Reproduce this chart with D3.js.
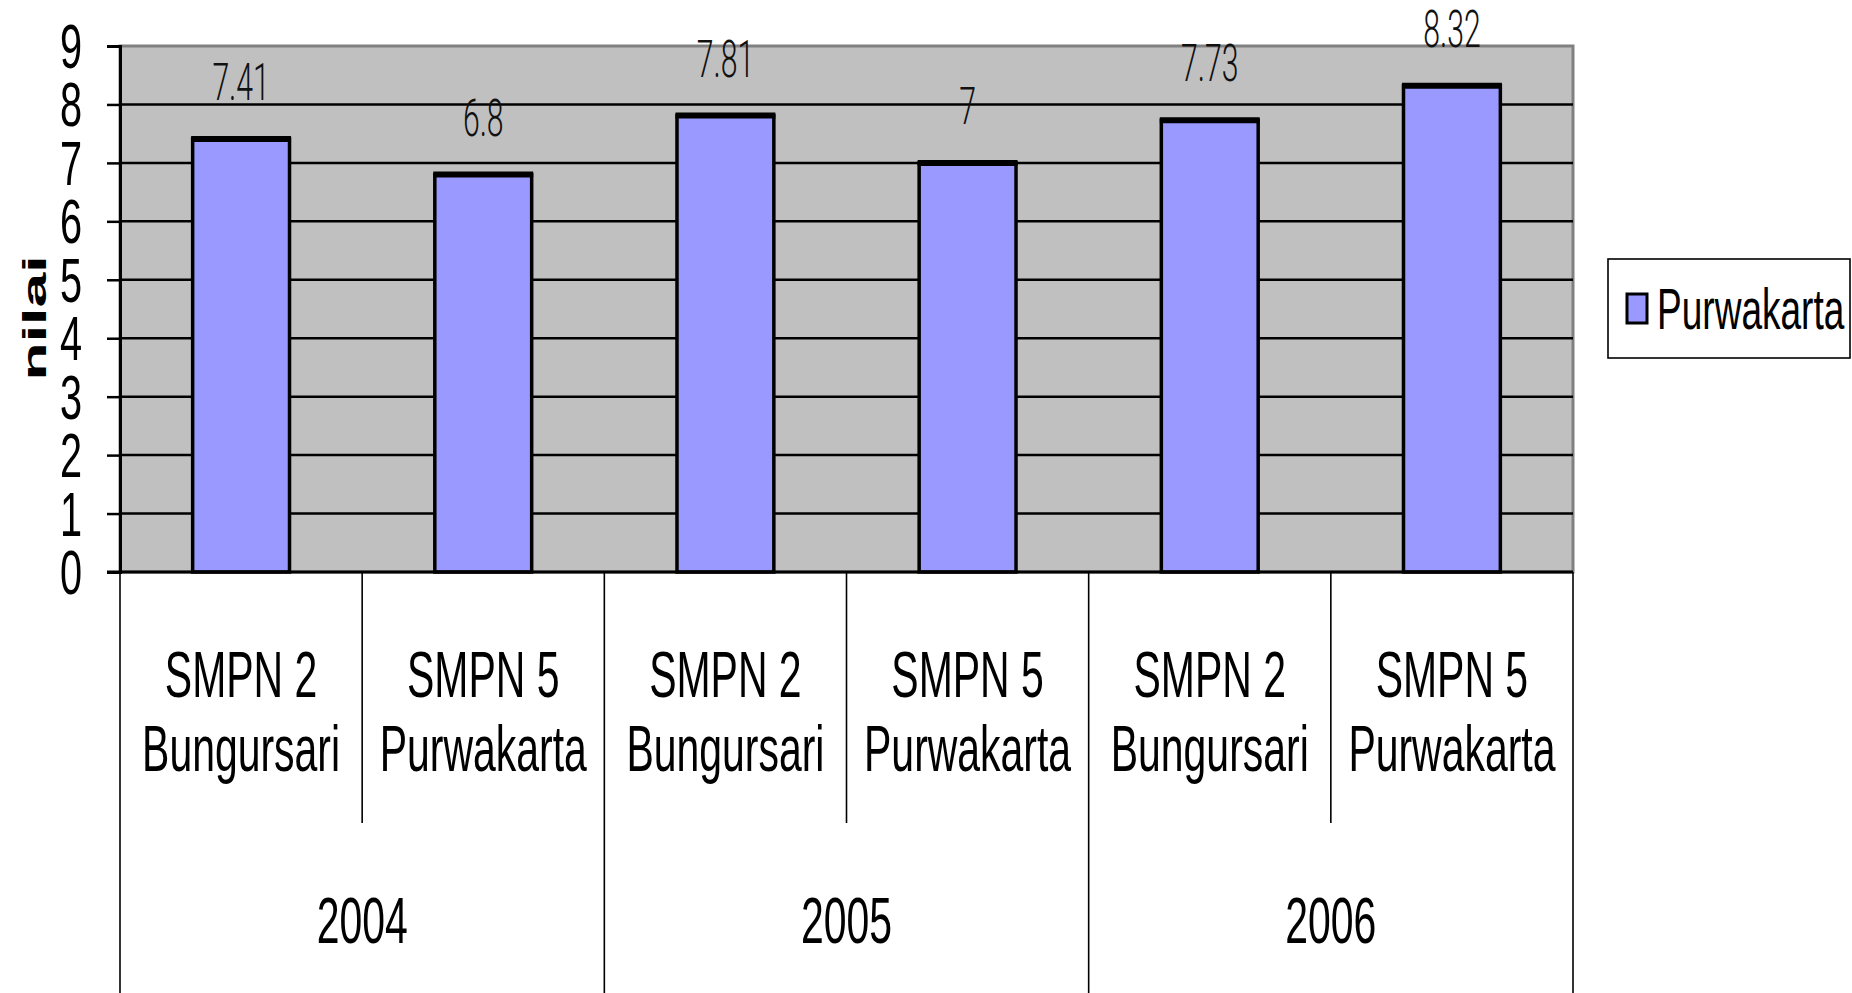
<!DOCTYPE html>
<html>
<head>
<meta charset="utf-8">
<script src="https://cdn.jsdelivr.net/npm/d3@7"></script>
<style>
    body { margin: 0; background: #fff; }
    svg { display: block; font-family: "Liberation Sans", Arial, sans-serif; }
</style>
</head>
<body>
<div class="div-bar-plot"></div>
<script>
// DATA

var schools = ["SMPN 2|Bungursari", "SMPN 5|Purwakarta", "SMPN 2|Bungursari", "SMPN 5|Purwakarta", "SMPN 2|Bungursari", "SMPN 5|Purwakarta"];
var years = ["2004", "2005", "2006"];
var nilai = [7.41, 6.8, 7.81, 7, 7.73, 8.32];
var valueLabels = ["7.41", "6.8", "7.81", "7", "7.73", "8.32"];
var yTicks = [0, 1, 2, 3, 4, 5, 6, 7, 8, 9];
var seriesName = "Purwakarta";

// VISUALIZATION

var width = 1852;
var height = 993;
var plotLeft = 120, plotRight = 1573, plotTop = 46, plotBottom = 572;
var squeeze = 0.63; // the original chart text is stretched tall

var svg = d3.select(".div-bar-plot").append("svg")
    .attr("width", width)
    .attr("height", height);

var x_scale = d3.scaleBand()
    .domain(d3.range(schools.length))
    .range([plotLeft, plotRight])
    .padding(0);

var year_scale = d3.scaleBand()
    .domain(years)
    .range([plotLeft, plotRight])
    .padding(0);

var y_scale = d3.scaleLinear()
    .domain([0, 9])
    .range([plotBottom, plotTop]);

// plot area
svg.append("rect")
    .attr("x", plotLeft)
    .attr("y", y_scale(9))
    .attr("width", plotRight - plotLeft)
    .attr("height", plotBottom - y_scale(9))
    .attr("fill", "#c0c0c0")
    .attr("stroke", "#808080")
    .attr("stroke-width", 3);

// gridlines
svg.append("g")
    .selectAll("line")
    .data(yTicks.filter(d => d > 0 && d < 9))
    .join("line")
    .attr("x1", plotLeft)
    .attr("x2", plotRight)
    .attr("y1", d => y_scale(d))
    .attr("y2", d => y_scale(d))
    .attr("stroke", "#000")
    .attr("stroke-width", 2.5);

// bars
var barWidth = x_scale.bandwidth() * 0.4;
var bars = svg.append("g").selectAll("g")
    .data(nilai)
    .join("g");

bars.append("rect")
    .attr("x", (d, i) => x_scale(i) + (x_scale.bandwidth() - barWidth) / 2)
    .attr("y", d => y_scale(d))
    .attr("width", barWidth)
    .attr("height", d => y_scale(0) - y_scale(d))
    .attr("fill", "#9999ff")
    .attr("stroke", "#000")
    .attr("stroke-width", 3.5);

bars.append("line")
    .attr("x1", (d, i) => x_scale(i) + (x_scale.bandwidth() - barWidth) / 2 - 1.5)
    .attr("x2", (d, i) => x_scale(i) + (x_scale.bandwidth() + barWidth) / 2 + 1.5)
    .attr("y1", d => y_scale(d))
    .attr("y2", d => y_scale(d))
    .attr("stroke", "#000")
    .attr("stroke-width", 6);

// value labels
svg.append("g").selectAll("text")
    .data(nilai)
    .join("text")
    .attr("transform", (d, i) => "translate(" + (x_scale(i) + x_scale.bandwidth() / 2) + "," + (y_scale(d) - 39) + ") scale(0.58,1)")
    .attr("text-anchor", "middle")
    .style("font-family", "Roboto, 'Liberation Sans', sans-serif")
    .style("font-weight", 300)
    .style("font-size", "52px")
    .attr("fill", "#111")
    .text((d, i) => valueLabels[i]);

// y axis
var y_axis = d3.axisLeft(y_scale)
    .tickValues(yTicks)
    .tickSize(13)
    .tickFormat("");

svg.append("g")
    .attr("class", "y axis")
    .attr("transform", "translate(" + plotLeft + ",0)")
    .call(y_axis)
    .call(g => g.select(".domain").attr("stroke-width", 3))
    .call(g => g.selectAll(".tick line").attr("stroke-width", 2.5));

svg.append("g").selectAll("text")
    .data(yTicks)
    .join("text")
    .attr("transform", d => "translate(82," + (y_scale(d) + 22) + ") scale(" + squeeze + ",1)")
    .attr("text-anchor", "end")
    .style("font-size", "63px")
    .text(d => d);

svg.append("line")
    .attr("x1", plotLeft - 13)
    .attr("x2", plotRight)
    .attr("y1", plotBottom)
    .attr("y2", plotBottom)
    .attr("stroke", "#000")
    .attr("stroke-width", 3);

svg.append("text")
    .attr("transform", "translate(46," + ((plotTop + plotBottom) / 2 + 9) + ") rotate(-90) scale(1.84,1)")
    .attr("text-anchor", "middle")
    .style("font-size", "34px")
    .style("font-weight", "bold")
    .text("nilai");

// category table below the plot
var table = svg.append("g").attr("stroke", "#000").attr("stroke-width", 1.6);

table.selectAll("line.year")
    .data([plotLeft].concat(years.map(d => year_scale(d) + year_scale.bandwidth())))
    .join("line")
    .attr("class", "year")
    .attr("x1", d => d).attr("x2", d => d)
    .attr("y1", plotBottom).attr("y2", height);

table.selectAll("line.school")
    .data(years.map(d => year_scale(d) + year_scale.bandwidth() / 2))
    .join("line")
    .attr("class", "school")
    .attr("x1", d => d).attr("x2", d => d)
    .attr("y1", plotBottom).attr("y2", 823);

var schoolLabels = svg.append("g").selectAll("g")
    .data(schools)
    .join("g");

schoolLabels.append("text")
    .attr("transform", (d, i) => "translate(" + (x_scale(i) + x_scale.bandwidth() / 2) + ",697) scale(" + squeeze + ",1)")
    .attr("text-anchor", "middle")
    .style("font-size", "65px")
    .text(d => d.split("|")[0]);

schoolLabels.append("text")
    .attr("transform", (d, i) => "translate(" + (x_scale(i) + x_scale.bandwidth() / 2) + ",771) scale(" + squeeze + ",1)")
    .attr("text-anchor", "middle")
    .style("font-size", "65px")
    .text(d => d.split("|")[1]);

svg.append("g").selectAll("text")
    .data(years)
    .join("text")
    .attr("transform", d => "translate(" + (year_scale(d) + year_scale.bandwidth() / 2) + ",943) scale(" + squeeze + ",1)")
    .attr("text-anchor", "middle")
    .style("font-size", "65px")
    .text(d => d);

// legend
var legend = svg.append("g").attr("class", "legend");

legend.append("rect")
    .attr("x", 1608)
    .attr("y", 259)
    .attr("width", 242)
    .attr("height", 99)
    .attr("fill", "#fff")
    .attr("stroke", "#000")
    .attr("stroke-width", 1.6);

legend.append("rect")
    .attr("x", 1627)
    .attr("y", 294)
    .attr("width", 20)
    .attr("height", 29)
    .attr("fill", "#9999ff")
    .attr("stroke", "#000")
    .attr("stroke-width", 3);

legend.append("text")
    .attr("transform", "translate(1657,329) scale(0.65,1)")
    .style("font-size", "57px")
    .text(seriesName);
</script>
</body>
</html>
